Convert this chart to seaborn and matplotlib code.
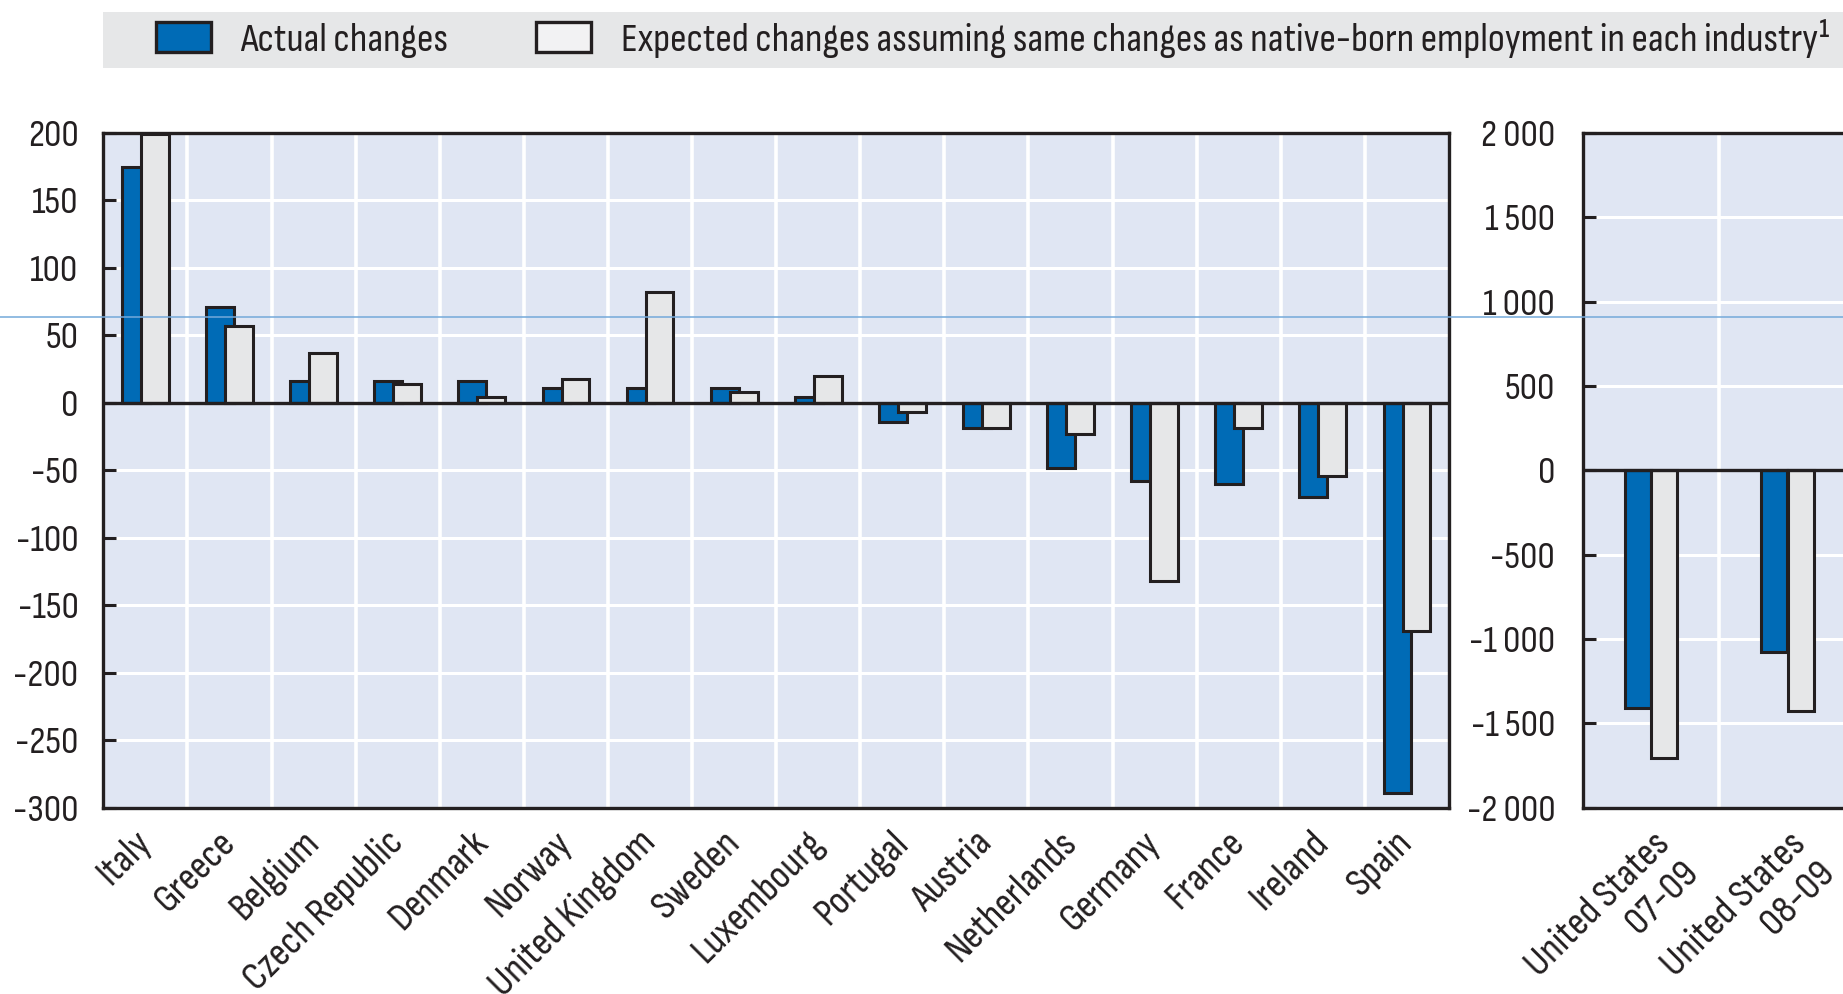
import matplotlib
matplotlib.use("Agg")
import matplotlib.pyplot as plt
from matplotlib.patches import Rectangle, Patch
from matplotlib.lines import Line2D
from matplotlib.ticker import FixedLocator, FuncFormatter
import pandas as pd
import seaborn as sns

# Change in foreign-born employment by country (thousands)
countries = ["Italy", "Greece", "Belgium", "Czech Republic", "Denmark", "Norway",
             "United Kingdom", "Sweden", "Luxembourg", "Portugal", "Austria",
             "Netherlands", "Germany", "France", "Ireland", "Spain"]
actual = [175, 71, 16, 16, 16, 11, 11, 11, 4, -14, -19, -48, -58, -60, -70, -289]
expected = [199, 57, 37, 14, 4, 18, 82, 8, 20, -7, -19, -23, -132, -19, -54, -169]

us_periods = ["United States\n07-09", "United States\n08-09"]
us_actual = [-1410, -1075]
us_expected = [-1705, -1425]

series_names = ["Actual changes",
                "Expected changes assuming same changes as native-born employment in each industry\u00b9"]

left_ticks = list(range(-300, 201, 50))
right_ticks = list(range(-2000, 2001, 500))

BLUE = "#006bb6"
GREY = "#e6e7e8"
INK = "#231f20"
PANEL = "#e0e6f3"
FS = 28
FS_CAT = 29.5

sns.set_theme(style="white")
plt.rcParams["font.family"] = ["Sofia Sans Condensed", "IBM Plex Sans Condensed", "DejaVu Sans"]
plt.rcParams["axes.unicode_minus"] = False
plt.rcParams["text.color"] = INK


def draw_panel(ax, cats, a_vals, e_vals, ticks, fmt, bar_w, offset, label_va, label_pad):
    n = len(cats)
    df = pd.DataFrame({
        "category": cats * 2,
        "series": [series_names[0]] * n + [series_names[1]] * n,
        "value": list(a_vals) + list(e_vals),
    })
    sns.barplot(data=df, x="category", y="value", hue="series", order=cats,
                hue_order=series_names, palette=[BLUE, GREY], saturation=1,
                edgecolor=INK, linewidth=2.2, errorbar=None, dodge=True,
                width=4 * offset, legend=False, ax=ax, zorder=2)
    # widen the dodged bars so the pair overlaps slightly
    for p in ax.patches:
        c = p.get_x() + p.get_width() / 2
        p.set_width(bar_w)
        p.set_x(c - bar_w / 2)

    ax.set_facecolor(PANEL)
    ax.set_xlim(-0.5, n - 0.5)
    ax.set_ylim(ticks[0], ticks[-1])
    ax.set_xlabel("")
    ax.set_ylabel("")

    ax.yaxis.set_major_locator(FixedLocator(ticks))
    ax.yaxis.set_major_formatter(FuncFormatter(fmt))
    ax.set_xticks(range(n))
    ax.set_xticks([i + 0.5 for i in range(n - 1)], minor=True)
    ax.set_xticklabels(cats, rotation=45, ha="right", va=label_va,
                       rotation_mode="anchor", fontsize=FS_CAT, color=INK)
    for lbl in ax.get_xticklabels():
        lbl.set_multialignment("right")

    ax.set_axisbelow(True)
    ax.yaxis.grid(True, color="white", lw=2.2)
    ax.xaxis.grid(True, which="minor", color="white", lw=2.6)
    ax.xaxis.grid(False, which="major")

    ax.tick_params(axis="x", which="major", length=0, pad=label_pad)
    ax.tick_params(axis="x", which="minor", direction="in", length=10,
                   width=2.2, color=INK)
    ax.tick_params(axis="y", direction="in", length=9, width=2.2, color=INK,
                   pad=18, labelsize=FS, labelcolor=INK, left=True)
    for s in ax.spines.values():
        s.set_visible(True)
        s.set_color(INK)
        s.set_linewidth(2.4)
    ax.axhline(0, color=INK, lw=2.4, zorder=3)


fig = plt.figure(figsize=(18.43, 9.94), dpi=100)
ax_l = fig.add_axes([0.0561, 0.1876, 0.7301, 0.6786])
ax_r = fig.add_axes([0.8589, 0.1876, 0.1481, 0.6786])

draw_panel(ax_l, countries, actual, expected, left_ticks,
           lambda v, _: f"{int(v)}", bar_w=0.33, offset=0.113,
           label_va="center", label_pad=21)
draw_panel(ax_r, us_periods, us_actual, us_expected, right_ticks,
           lambda v, _: f"{int(v):,}".replace(",", " "), bar_w=0.19, offset=0.097,
           label_va="top", label_pad=13)
ax_r.tick_params(axis="y", pad=20)

# legend strip
fig.add_artist(Rectangle((103 / 1843, 1 - 68 / 994), (1843 - 103) / 1843, 56 / 994,
                         transform=fig.transFigure, facecolor="#e6e7e8",
                         edgecolor="none", zorder=0))
handles = [Patch(facecolor=BLUE, edgecolor=INK, linewidth=2.4),
           Patch(facecolor="#f2f2f3", edgecolor=INK, linewidth=2.4)]
fig.legend(handles, series_names, loc="center left",
           bbox_to_anchor=(156 / 1843, 1 - 38.8 / 994), ncol=2, frameon=False,
           borderpad=0, borderaxespad=0, handlelength=1.34, handleheight=0.73,
           handletextpad=0.72, columnspacing=2.15, fontsize=29.5)

# thin blue guide line across the figure
fig.add_artist(Line2D([0, 1], [1 - 317.4 / 994] * 2, transform=fig.transFigure,
                      color="#74a9da", lw=1.1, zorder=20))

fig.savefig("out.png", dpi=100)
